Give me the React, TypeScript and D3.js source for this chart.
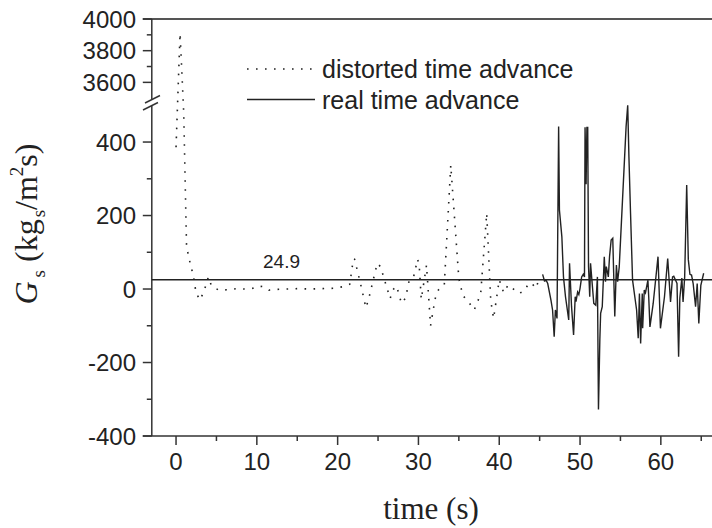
import React from "react";
import * as d3 from "d3";

const distortedT = [0.0,0.5,0.95,1.3,1.8,2.1,2.3,2.45,2.95,3.45,4.0,4.4,5.3,6.5,7.5,8.5,9.5,10.2,10.9,11.5,12.5,13.5,15,16.5,18,19.5,20.6,21.5,21.95,22.1,22.9,23.5,23.85,24.9,25.3,26.5,26.8,27.3,27.9,28.4,28.85,29.4,29.9,30.1,30.35,31.0,31.5,32.05,32.4,33.2,34.0,35.0,35.5,36.2,36.9,37.7,38.45,38.95,39.3,40.0,40.55,41.1,42.45,43.1,43.7,44.2,44.55,44.9];
const distortedV = [386,3910,480,115,65,40,17,-9,-30,-7,33,8,-3,-2,1,0,2,8,6,-3,-1,0,1,0,1,2,6,13,82,81,8,-51,-26,70,61,-26,-3,8,-39,-25,23,33,81,63,-28,65,-100,-28,-4,11,337,29,-18,-35,-57,-14,206,-32,-80,25,-10,11,-12,-5,17,11,2,26];

const realT = [45.37,45.6,45.8,46.0,46.4,46.6,46.8,46.95,47.15,47.35,47.45,47.75,47.95,48.2,48.6,48.7,48.95,49.2,49.4,49.5,49.7,49.85,50.0,50.2,50.4,50.55,50.62,50.75,50.85,50.95,51.05,51.2,51.3,51.7,51.95,52.15,52.28,52.45,52.55,52.75,53.0,53.15,53.25,53.4,53.5,53.65,53.85,54.05,54.3,54.5,54.65,54.85,55.7,55.9,56.05,56.25,56.5,57.0,57.2,57.35,57.5,57.7,57.75,57.95,58.1,58.4,58.5,58.65,59.05,59.65,59.95,60.45,60.85,61.2,61.45,61.6,61.8,62.0,62.2,62.35,62.6,62.75,62.95,63.2,63.4,63.6,63.8,64.0,64.3,64.5,64.7,64.95,65.3];
const realV = [40,22,24,15,-30,-57,-130,-57,-80,442,215,142,33,-21,-84,70,-48,-125,-21,-34,-8,-15,2,33,40,33,440,285,440,440,61,-21,70,-39,-44,33,-328,-139,-66,-48,88,20,61,45,33,88,133,138,-75,65,20,60,442,508,360,206,24,-57,-134,-12,-148,-12,-107,-3,-10,24,-21,-103,-40,88,-107,-21,83,-35,33,35,25,15,-184,-25,30,-35,33,283,80,40,38,15,-48,15,-94,10,43];

const xTicks = [0, 10, 20, 30, 40, 50, 60];
const xMinorTicks = [5, 15, 25, 35, 45, 55, 65];
const yLowTicks = [-400, -200, 0, 200, 400];
const yLowMinor = [-300, -100, 100, 300];
const yHighTicks = [3600, 3800, 4000];
const yHighMinor = [3700, 3900];
const refValue = 24.9;
const legendLabels = ["distorted time advance", "real time advance"];
const xTitle = "time (s)";

const W = 712, H = 528;
const sans = "'Liberation Sans', Arial, sans-serif";
const serif = "'Liberation Serif', 'Times New Roman', serif";

export default function App() {
  const x = d3.scaleLinear().domain([-3, 67]).range([151.8, 717.4]);
  const y = d3.scaleLinear().domain([-400, 500, 3500, 4000]).range([436, 105.3, 98.2, 19]);
  const line = d3.line<[number, number]>().x(d => x(d[0])).y(d => y(d[1]));
  const dPts = distortedT.map((t, i) => [t, distortedV[i]] as [number, number]);
  const rPts = realT.map((t, i) => [t, realV[i]] as [number, number]);
  const axisX = x(-3);
  const axisColor = "#333";
  const yBottom = y(-400);

  return (
    <svg width={W} height={H} style={{ position: "absolute", left: 0, top: 0, background: "#fff" }}>
      <rect width={W} height={H} fill="#fff" />
      {/* top frame */}
      <line x1={axisX - 9} x2={W} y1={y(4000)} y2={y(4000)} stroke="#555" strokeWidth={2} />
      {/* left axis upper & lower */}
      <line x1={axisX} x2={axisX} y1={y(4000)} y2={99.5} stroke={axisColor} strokeWidth={1.5} />
      <line x1={axisX} x2={axisX} y1={105} y2={yBottom} stroke={axisColor} strokeWidth={1.5} />
      {/* break marks */}
      <line x1={145} y1={103} x2={160} y2={95.5} stroke={axisColor} strokeWidth={1.5} />
      <line x1={143} y1={110} x2={158} y2={102.5} stroke={axisColor} strokeWidth={1.5} />
      {/* y ticks */}
      {[...yLowTicks, ...yHighTicks].map(v => (
        <g key={"yt" + v}>
          <line x1={axisX - 9} x2={axisX} y1={y(v)} y2={y(v)} stroke={axisColor} strokeWidth={1.5} />
          <text x={136} y={y(v)} dy="0.36em" textAnchor="end" fontFamily={sans} fontSize={24} fill="#222">{v}</text>
        </g>
      ))}
      {[...yLowMinor, ...yHighMinor].map(v => (
        <line key={"ym" + v} x1={axisX - 5} x2={axisX} y1={y(v)} y2={y(v)} stroke={axisColor} strokeWidth={1.5} />
      ))}
      {/* x axis */}
      <line x1={axisX - 9} x2={W} y1={yBottom} y2={yBottom} stroke={axisColor} strokeWidth={1.5} />
      {xTicks.map(t => (
        <g key={"xt" + t}>
          <line x1={x(t)} x2={x(t)} y1={yBottom} y2={yBottom + 9} stroke={axisColor} strokeWidth={1.5} />
          <text x={x(t)} y={470} textAnchor="middle" fontFamily={sans} fontSize={24} fill="#222">{t}</text>
        </g>
      ))}
      {xMinorTicks.map(t => (
        <line key={"xm" + t} x1={x(t)} x2={x(t)} y1={yBottom} y2={yBottom + 5} stroke={axisColor} strokeWidth={1.5} />
      ))}
      {/* reference line */}
      <line x1={axisX} x2={W} y1={y(refValue)} y2={y(refValue)} stroke="#222" strokeWidth={1.5} />
      <text x={263} y={268} fontFamily={sans} fontSize={19} fill="#222">{refValue}</text>
      {/* data */}
      <path d={line(dPts) || ""} fill="none" stroke="#222" strokeWidth={1.6} strokeDasharray="1.6 7.4" />
      <path d={line(rPts) || ""} fill="none" stroke="#222" strokeWidth={1.4} strokeLinejoin="miter" />
      {/* legend */}
      <line x1={247} x2={312} y1={69} y2={69} stroke="#222" strokeWidth={1.6} strokeDasharray="1.6 7.4" />
      <line x1={247} x2={315} y1={99.5} y2={99.5} stroke="#222" strokeWidth={1.5} />
      <text x={322} y={77.5} fontFamily={sans} fontSize={25} fill="#222">{legendLabels[0]}</text>
      <text x={322} y={108.5} fontFamily={sans} fontSize={25} fill="#222">{legendLabels[1]}</text>
      {/* axis titles */}
      <text x={431} y={519} textAnchor="middle" fontFamily={serif} fontSize={31} fill="#222">{xTitle}</text>
      <text transform="translate(37,224) rotate(-90)" textAnchor="middle" fontFamily={serif} fontSize={32} fill="#222">
        <tspan fontStyle="italic">G</tspan>
        <tspan fontSize={19} dx={4} dy={8}>s</tspan>
        <tspan dy={-8}> (kg</tspan>
        <tspan fontSize={19} dx={2} dy={8}>s</tspan>
        <tspan dy={-8}>/m</tspan>
        <tspan fontSize={19} dy={-14}>2</tspan>
        <tspan dy={14}>s)</tspan>
      </text>
    </svg>
  );
}
